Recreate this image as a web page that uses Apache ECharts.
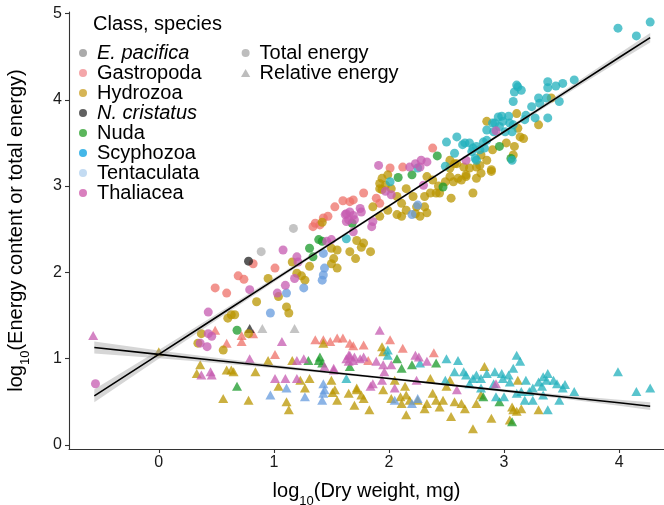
<!DOCTYPE html>
<html>
<head>
<meta charset="utf-8">
<script src="https://cdn.jsdelivr.net/npm/echarts@6/dist/echarts.min.js"></script>
<style>
  html, body { margin: 0; padding: 0; background: #ffffff; }
  #chart { width: 664px; height: 505px; }
</style>
</head>
<body>
<div id="chart"></div>
<script>
// Axis ticks
const xTicks = [0, 1, 2, 3, 4];
const yTicks = [0, 1, 2, 3, 4, 5];

// Groups
const classes = ['E. pacifica', 'Gastropoda', 'Hydrozoa', 'N. cristatus', 'Nuda', 'Scyphozoa', 'Tentaculata', 'Thaliacea'];
const italicNames = ['E. pacifica', 'N. cristatus'];

// Total energy, log10 [dry weight, energy]
const totalEPacifica = [[0.89, 2.24], [1.17, 2.51]];
const totalGastropoda = [
  [0.49, 1.82], [0.59, 1.76], [0.69, 1.96], [0.74, 1.92], [0.82, 2.10], [1.01, 2.05],
  [1.36, 2.57], [1.43, 2.63], [1.47, 2.65], [1.34, 2.53], [1.53, 2.76], [1.60, 2.83],
  [1.66, 2.82], [1.69, 2.84], [1.78, 2.92], [1.89, 2.86], [1.92, 2.80], [2.01, 3.21],
  [2.12, 3.22], [2.38, 3.44], [1.40, 2.55]
];
const totalHydrozoa = [
  [0.37, 1.29], [0.34, 1.18], [0.56, 1.10], [0.78, 1.29], [0.63, 1.51], [0.60, 1.47],
  [0.66, 1.51], [0.85, 1.66], [0.95, 1.93], [1.04, 1.72], [1.11, 1.60], [1.13, 1.53],
  [1.16, 2.12], [1.20, 1.99], [1.24, 1.96], [1.27, 1.91], [1.31, 2.07], [1.42, 2.58],
  [1.50, 2.28], [1.55, 2.26], [1.52, 2.16], [1.50, 2.10], [1.55, 2.05], [1.72, 2.37],
  [1.78, 2.34], [1.76, 2.29], [1.71, 2.16], [1.66, 2.24], [1.84, 2.24], [1.94, 3.09],
  [1.97, 3.01], [1.92, 2.97], [2.02, 2.97], [2.15, 2.97], [2.07, 2.88], [2.11, 2.80],
  [2.24, 2.76], [2.31, 2.76], [2.33, 2.69], [2.31, 2.88], [2.21, 2.88], [2.36, 2.92],
  [2.41, 2.92], [2.43, 3.00], [2.49, 3.05], [2.44, 2.92], [2.54, 2.86], [2.53, 3.30],
  [2.53, 3.21], [2.53, 3.11], [2.60, 3.09], [2.59, 3.26], [2.65, 3.22], [2.70, 3.21],
  [2.76, 3.22], [2.80, 3.15], [2.89, 3.19], [2.67, 3.11], [2.76, 3.09], [2.73, 2.92],
  [2.89, 3.17], [2.79, 3.24], [2.80, 3.36], [2.90, 3.42], [2.85, 3.30], [3.08, 3.36],
  [3.09, 3.46], [3.02, 3.50], [3.14, 3.57], [3.17, 3.55], [3.12, 3.67], [3.11, 3.84],
  [2.85, 3.75], [3.30, 3.71], [3.41, 4.02], [2.57, 3.26], [2.67, 3.13], [2.63, 3.07],
  [2.56, 3.05], [2.38, 3.07], [2.33, 3.11], [1.92, 3.03], [1.94, 2.96], [1.99, 3.13],
  [2.15, 2.72], [2.07, 2.67], [2.11, 2.65], [2.23, 2.68], [2.27, 2.65], [1.86, 2.76],
  [1.92, 2.65], [1.99, 2.72]
];
const totalNCristatus = [[0.78, 2.13]];
const totalNuda = [
  [0.68, 1.33], [1.39, 2.38], [1.42, 2.36], [1.31, 2.28], [1.34, 2.18], [1.68, 2.57],
  [2.08, 3.10], [2.20, 3.13], [2.42, 3.35], [2.47, 2.99], [2.96, 3.46], [3.06, 3.32]
];
const totalScyphozoa = [
  [1.63, 2.39], [2.01, 3.05], [2.25, 3.21], [2.49, 3.23], [2.50, 3.51], [2.59, 3.57],
  [2.64, 3.48], [2.70, 3.50], [2.76, 3.46], [2.72, 3.40], [2.57, 3.38], [2.75, 3.32],
  [2.66, 3.50], [2.82, 3.51], [2.73, 3.44], [2.79, 3.42], [2.76, 3.30], [2.85, 3.53],
  [2.83, 3.44], [2.85, 3.65], [2.91, 3.63], [2.90, 3.73], [2.96, 3.69], [2.98, 3.81],
  [3.04, 3.81], [2.92, 3.73], [2.99, 3.75], [3.05, 3.73], [2.95, 3.80], [3.01, 3.63],
  [3.08, 3.71], [3.07, 3.63], [3.08, 3.98], [3.09, 4.09], [3.12, 4.15], [3.15, 4.11],
  [3.11, 4.17], [3.30, 4.02], [3.37, 4.02], [3.31, 3.96], [3.48, 3.98], [3.24, 3.92],
  [3.38, 3.79], [3.27, 3.79], [3.19, 3.82], [3.18, 3.77], [3.38, 4.21], [3.45, 4.16],
  [3.51, 4.19], [3.61, 4.23], [3.38, 4.14], [3.07, 3.30], [3.99, 4.83], [4.15, 4.74],
  [4.27, 4.90]
];
const totalTentaculata = [
  [0.97, 1.53], [1.11, 1.76], [1.26, 1.82], [1.42, 1.91], [1.43, 1.97], [1.44, 2.05],
  [1.43, 2.22], [2.25, 2.78], [2.20, 2.67]
];
const totalThaliacea = [
  [-0.55, 0.71], [0.43, 1.54], [0.46, 1.26], [0.43, 1.29], [0.36, 1.18], [0.42, 1.14],
  [0.79, 1.80], [1.03, 1.76], [1.10, 1.85], [1.18, 1.93], [1.08, 2.26], [1.20, 2.18],
  [1.21, 2.12], [1.46, 2.36], [1.50, 2.38], [1.69, 2.47], [1.63, 2.68], [1.66, 2.70],
  [1.69, 2.66], [1.65, 2.61], [1.70, 2.61], [1.75, 2.74], [1.76, 2.70], [1.63, 2.59],
  [1.85, 2.53], [1.86, 2.59], [1.91, 3.24], [2.23, 3.26], [2.28, 3.30], [2.33, 3.28],
  [2.18, 3.22], [2.27, 3.22], [2.67, 3.30], [2.30, 3.01], [1.97, 2.94], [2.02, 2.90],
  [2.93, 3.64], [1.62, 2.67]
];

// Relative energy, log10 [dry weight, energy content]
const relEPacifica = [[0.90, 1.35], [1.18, 1.35]];
const relGastropoda = [
  [0.49, 1.33], [0.59, 1.18], [0.72, 1.20], [0.72, 1.27], [0.82, 1.29], [1.01, 1.05],
  [1.36, 1.22], [1.43, 1.22], [1.49, 1.20], [1.55, 1.24], [1.60, 1.24], [1.66, 1.18],
  [1.69, 1.15], [1.78, 1.16], [2.01, 1.22], [2.12, 1.12], [2.39, 1.07], [1.82, 0.98]
];
const relHydrozoa = [
  [0.00, 1.08], [0.36, 0.93], [0.33, 0.83], [0.59, 0.87], [0.63, 0.87], [0.65, 0.85],
  [0.84, 0.85], [0.95, 0.98], [0.56, 0.54], [0.78, 0.52], [1.04, 0.68], [1.11, 0.50],
  [1.13, 0.41], [1.16, 0.98], [1.23, 0.75], [1.27, 0.66], [1.31, 0.77], [1.43, 1.18],
  [1.55, 0.52], [1.65, 0.60], [1.70, 0.46], [1.72, 0.66], [1.51, 0.61], [1.94, 1.14],
  [1.95, 1.08], [1.50, 0.75], [1.53, 0.64], [1.72, 0.64], [1.76, 0.58], [1.78, 0.54],
  [1.83, 0.41], [1.95, 0.64], [2.02, 0.54], [2.10, 0.56], [2.11, 0.48], [2.15, 0.35],
  [2.25, 0.52], [2.33, 0.48], [2.31, 0.42], [2.36, 0.77], [2.41, 0.52], [2.44, 0.44],
  [2.47, 0.52], [2.54, 0.33], [2.57, 0.50], [2.63, 0.48], [2.66, 0.42], [2.73, 0.19],
  [2.76, 0.48], [2.83, 0.91], [2.80, 0.58], [2.89, 0.31], [3.05, 0.29], [3.08, 0.41],
  [3.11, 0.39], [3.15, 0.42], [3.12, 0.75], [3.30, 0.41], [2.50, 0.68], [2.15, 0.58],
  [2.18, 0.52], [2.38, 0.60], [2.53, 0.75], [2.05, 0.75], [2.14, 0.68], [3.07, 0.44]
];
const relNCristatus = [[0.79, 1.35]];
const relNuda = [
  [0.68, 0.68], [1.30, 0.98], [1.39, 0.98], [1.40, 1.02], [1.42, 0.95], [1.66, 0.91],
  [2.07, 1.00], [2.11, 0.89], [2.20, 0.93], [2.41, 0.95], [2.96, 0.50], [3.07, 0.27],
  [2.82, 0.56]
];
const relScyphozoa = [
  [1.63, 0.77], [1.99, 1.10], [1.99, 1.04], [2.27, 0.95], [2.50, 1.00], [2.60, 0.98],
  [2.57, 0.85], [2.65, 0.85], [2.67, 0.81], [2.73, 0.77], [2.76, 0.81], [2.80, 0.77],
  [2.85, 0.83], [2.92, 0.85], [2.98, 0.83], [2.99, 0.77], [3.04, 0.81], [3.08, 0.89],
  [3.11, 1.04], [3.14, 0.97], [3.19, 0.75], [3.25, 0.66], [3.30, 0.73], [3.33, 0.68],
  [3.37, 0.75], [3.38, 0.83], [3.43, 0.75], [3.48, 0.52], [3.51, 0.66], [3.53, 0.70],
  [3.61, 0.62], [3.38, 0.41], [3.99, 0.85], [4.15, 0.62], [4.27, 0.66], [3.15, 0.62],
  [3.18, 0.52], [3.25, 0.52], [2.80, 0.66], [2.49, 0.75], [2.70, 0.71], [2.91, 0.71],
  [3.05, 0.73], [2.93, 0.56], [3.00, 0.56], [3.11, 0.60], [3.22, 0.62], [3.34, 0.58],
  [3.34, 0.79], [3.46, 0.71]
];
const relTentaculata = [
  [0.97, 0.58], [1.11, 0.66], [1.27, 0.56], [1.43, 0.71], [1.43, 0.60], [1.42, 0.52],
  [1.44, 0.64], [2.05, 0.52], [2.20, 0.48], [2.25, 0.54]
];
const relThaliacea = [
  [-0.57, 1.27], [0.45, 0.85], [0.37, 0.81], [0.46, 0.81], [0.79, 1.00], [1.07, 1.20],
  [1.01, 0.77], [1.10, 0.77], [1.20, 0.77], [1.20, 0.98], [1.26, 1.00], [1.44, 0.91],
  [1.52, 0.89], [1.63, 1.00], [1.66, 1.04], [1.69, 0.98], [1.92, 1.33], [1.65, 1.04],
  [1.70, 1.02], [1.75, 1.00], [1.78, 1.02], [1.65, 0.97], [1.89, 0.97], [1.95, 0.93],
  [2.02, 0.93], [2.23, 1.04], [2.26, 1.02], [2.33, 0.97], [1.86, 0.71], [1.94, 0.75],
  [2.05, 0.66], [2.24, 0.75], [2.59, 0.64], [2.93, 0.71], [1.52, 0.87], [1.96, 0.85],
  [1.84, 0.68]
];

// Fitted regressions with confidence bands
const fitX = [-0.56, 0, 0.5, 1, 1.5, 2, 2.5, 3, 3.5, 4, 4.27];
const totalFit = [0.57, 1.05, 1.48, 1.91, 2.34, 2.77, 3.20, 3.63, 4.06, 4.49, 4.72];
const totalLo = [0.495, 1.00, 1.445, 1.885, 2.322, 2.755, 3.185, 3.612, 4.032, 4.445, 4.665];
const totalHi = [0.645, 1.10, 1.515, 1.935, 2.358, 2.785, 3.215, 3.648, 4.088, 4.535, 4.775];
const relFit = [1.13, 1.05, 0.98, 0.91, 0.84, 0.77, 0.70, 0.63, 0.56, 0.49, 0.45];
const relLo = [1.06, 1.005, 0.95, 0.89, 0.825, 0.758, 0.688, 0.615, 0.538, 0.455, 0.405];
const relHi = [1.20, 1.095, 1.01, 0.93, 0.855, 0.782, 0.712, 0.645, 0.582, 0.525, 0.495];

const totalByClass = [totalEPacifica, totalGastropoda, totalHydrozoa, totalNCristatus, totalNuda, totalScyphozoa, totalTentaculata, totalThaliacea];
const relByClass = [relEPacifica, relGastropoda, relHydrozoa, relNCristatus, relNuda, relScyphozoa, relTentaculata, relThaliacea];

const pointColors = ['#b0b0b0', '#ed7068', '#b99600', '#222222', '#1a9a2a', '#22b0bc', '#659bdd', '#c55bb0'];
const legendColors = ['#ababab', '#f4a6a9', '#d6b556', '#616161', '#5bb65c', '#44b7e8', '#c3dbf2', '#d97fbe'];
const shapeKeyColor = '#bdbdbd';

const FONT = '"Liberation Sans", Arial, sans-serif';
const TRIANGLE_ICON = 'path://M5,0L10,8.66L0,8.66Z';

const chart = echarts.init(document.getElementById('chart'), null, { renderer: 'canvas' });

function bandSeries(lo, hi) {
  return {
    type: 'custom',
    silent: true,
    z: 3,
    clip: true,
    data: [[0, 1]],
    renderItem: function (params, api) {
      const pts = [];
      for (let i = 0; i < fitX.length; i++) pts.push(api.coord([fitX[i], hi[i]]));
      for (let i = fitX.length - 1; i >= 0; i--) pts.push(api.coord([fitX[i], lo[i]]));
      return { type: 'polygon', shape: { points: pts }, style: { fill: '#999999', opacity: 0.4 } };
    }
  };
}

function fitSeries(fit) {
  return {
    type: 'line',
    silent: true,
    z: 4,
    symbol: 'none',
    data: fitX.map((x, i) => [x, fit[i]]),
    lineStyle: { color: '#000000', width: 1.6 }
  };
}

const series = [];
classes.forEach((c, i) => {
  series.push({
    name: c, type: 'scatter', z: 2, symbol: 'triangle', symbolSize: [10, 9],
    data: relByClass[i], itemStyle: { color: pointColors[i], opacity: 0.75 }
  });
});
classes.forEach((c, i) => {
  series.push({
    name: c, type: 'scatter', z: 2, symbol: 'circle', symbolSize: 9,
    data: totalByClass[i], itemStyle: { color: pointColors[i], opacity: 0.75 }
  });
});
series.push(bandSeries(totalLo, totalHi), bandSeries(relLo, relHi));
series.push(fitSeries(totalFit), fitSeries(relFit));
series.push({ name: 'Total energy', type: 'scatter', data: [], itemStyle: { color: shapeKeyColor } });
series.push({ name: 'Relative energy', type: 'scatter', data: [], itemStyle: { color: shapeKeyColor } });

const axisLineStyle = { color: '#333333', width: 1.1 };
const titleRich = {
  sub: { fontSize: 13, lineHeight: 12, verticalAlign: 'bottom', fontFamily: FONT, color: '#000' }
};

const legendText = {
  fontSize: 20, lineHeight: 20, color: '#000', fontFamily: FONT,
  rich: { it: { fontSize: 20, lineHeight: 20, fontStyle: 'italic', fontFamily: FONT, color: '#000' } }
};

chart.setOption({
  animation: false,
  backgroundColor: '#ffffff',
  grid: { left: 69, right: 0, top: 12, bottom: 56, containLabel: false, outerBoundsMode: 'none' },
  xAxis: {
    type: 'value', min: -0.78, max: 4.39,
    splitLine: { show: false },
    axisLine: { onZero: false, lineStyle: axisLineStyle },
    axisTick: { length: 4, customValues: xTicks, lineStyle: axisLineStyle },
    axisLabel: { customValues: xTicks, fontSize: 16, color: '#1a1a1a', margin: 6, fontFamily: FONT },
    name: 'log{sub|10}(Dry weight, mg)',
    nameLocation: 'middle', nameGap: 24,
    nameTextStyle: { fontSize: 20, lineHeight: 32, color: '#000', fontFamily: FONT, rich: titleRich }
  },
  yAxis: {
    type: 'value', min: -0.046, max: 5.017,
    splitLine: { show: false },
    axisLine: { onZero: false, lineStyle: axisLineStyle },
    axisTick: { length: 4, customValues: yTicks, lineStyle: axisLineStyle },
    axisLabel: { customValues: yTicks, fontSize: 16, color: '#1a1a1a', margin: 7, fontFamily: FONT },
    name: 'log{sub|10}(Energy content or total energy)',
    nameLocation: 'middle', nameGap: 37, nameRotate: 90,
    nameTextStyle: { fontSize: 20, lineHeight: 32, color: '#000', fontFamily: FONT, rich: titleRich }
  },
  legend: [
    {
      orient: 'vertical', left: 74, top: 38, itemWidth: 18, itemHeight: 8, itemGap: 0,
      selectedMode: false, textStyle: legendText,
      formatter: n => italicNames.includes(n) ? '{it|' + n + '}' : n,
      data: classes.map((c, i) => ({ name: c, icon: 'circle', itemStyle: { color: legendColors[i], opacity: 1 } }))
    },
    {
      orient: 'vertical', left: 236, top: 38, itemWidth: 18, itemHeight: 8, itemGap: 0,
      selectedMode: false, textStyle: legendText,
      data: [
        { name: 'Total energy', icon: 'circle', itemStyle: { color: shapeKeyColor, opacity: 1 } },
        { name: 'Relative energy', icon: TRIANGLE_ICON, itemStyle: { color: shapeKeyColor, opacity: 1 } }
      ]
    }
  ],
  graphic: [
    { type: 'text', left: 93, top: 14, style: { text: 'Class, species', fontSize: 20, fill: '#000', fontFamily: FONT } }
  ],
  series: series
});
</script>
</body>
</html>
